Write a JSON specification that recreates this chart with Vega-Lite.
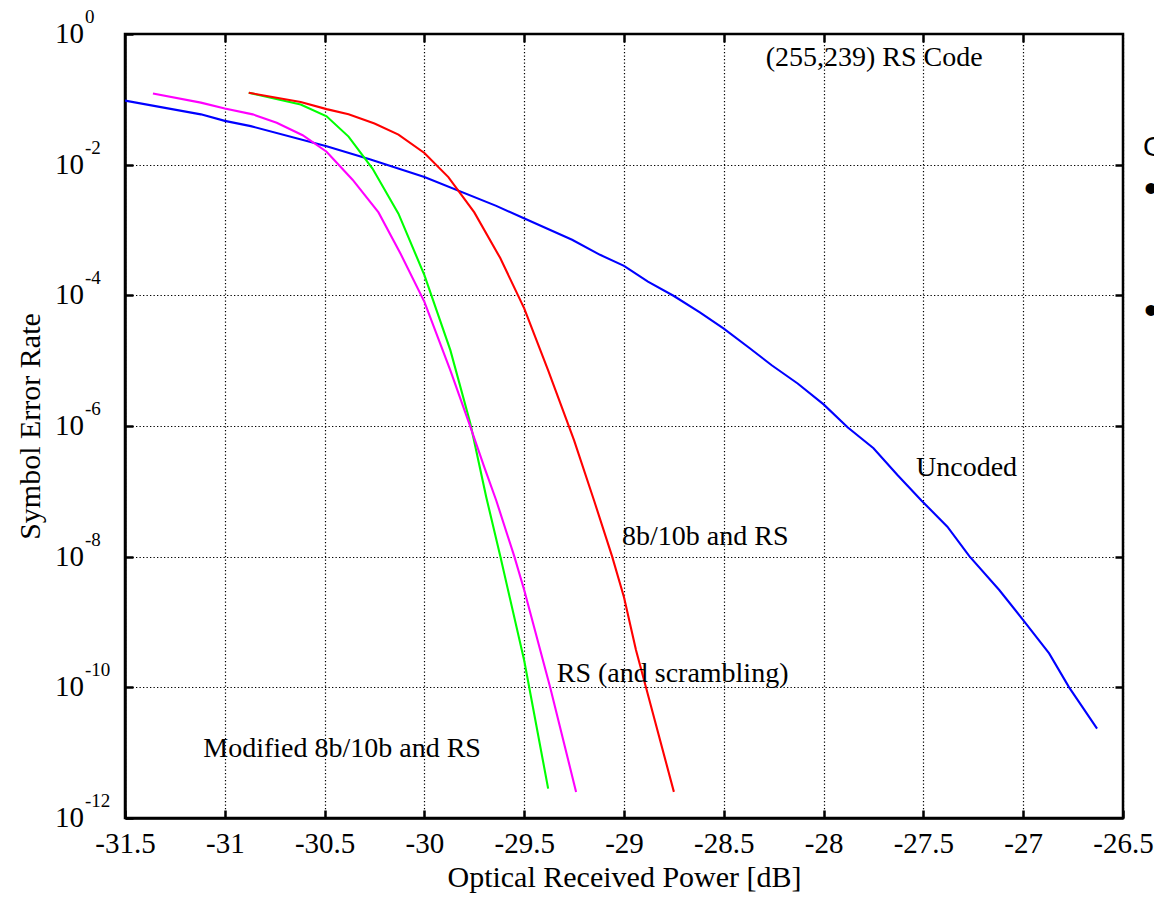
{
  "$schema": "https://vega.github.io/schema/vega-lite/v6.json",
  "autosize": {"type": "none"},
  "width": 998,
  "height": 784,
  "padding": {"left": 125, "top": 34, "right": 31, "bottom": 83},
  "background": "white",
  "config": {
    "view": {"stroke": "black", "strokeWidth": 2.5},
    "font": "Liberation Serif",
    "axis": {
      "domainColor": "black", "domainWidth": 2.5,
      "gridColor": "black", "gridDash": [1.3, 2.2], "gridWidth": 1.2, "gridOpacity": 1,
      "tickColor": "black", "tickWidth": 2.5, "tickSize": -8,
      "labelFont": "Liberation Serif", "labelFontSize": 29, "labelColor": "black",
      "titleFont": "Liberation Serif", "titleFontSize": 30, "titleFontWeight": "normal", "titleColor": "black"
    }
  },
  "datasets": {
    "curves": [
      {"s": "Uncoded", "x": -31.5, "y": 0.0955},
      {"s": "Uncoded", "x": -31.12, "y": 0.0589},
      {"s": "Uncoded", "x": -31.0, "y": 0.0468},
      {"s": "Uncoded", "x": -30.87, "y": 0.0389},
      {"s": "Uncoded", "x": -30.49, "y": 0.0191},
      {"s": "Uncoded", "x": -30.27, "y": 0.012},
      {"s": "Uncoded", "x": -30.0, "y": 0.00646},
      {"s": "Uncoded", "x": -29.64, "y": 0.00234},
      {"s": "Uncoded", "x": -29.51, "y": 0.00155},
      {"s": "Uncoded", "x": -29.26, "y": 7.08e-4},
      {"s": "Uncoded", "x": -29.12, "y": 4.17e-4},
      {"s": "Uncoded", "x": -29.0, "y": 2.82e-4},
      {"s": "Uncoded", "x": -28.88, "y": 1.62e-4},
      {"s": "Uncoded", "x": -28.75, "y": 9.77e-5},
      {"s": "Uncoded", "x": -28.62, "y": 5.5e-5},
      {"s": "Uncoded", "x": -28.5, "y": 3.09e-5},
      {"s": "Uncoded", "x": -28.37, "y": 1.55e-5},
      {"s": "Uncoded", "x": -28.26, "y": 8.51e-6},
      {"s": "Uncoded", "x": -28.13, "y": 4.47e-6},
      {"s": "Uncoded", "x": -28.0, "y": 2.14e-6},
      {"s": "Uncoded", "x": -27.88, "y": 9.55e-7},
      {"s": "Uncoded", "x": -27.75, "y": 4.57e-7},
      {"s": "Uncoded", "x": -27.63, "y": 1.78e-7},
      {"s": "Uncoded", "x": -27.51, "y": 7.24e-8},
      {"s": "Uncoded", "x": -27.38, "y": 2.88e-8},
      {"s": "Uncoded", "x": -27.27, "y": 1.02e-8},
      {"s": "Uncoded", "x": -27.12, "y": 3.09e-9},
      {"s": "Uncoded", "x": -27.0, "y": 1.07e-9},
      {"s": "Uncoded", "x": -26.87, "y": 3.31e-10},
      {"s": "Uncoded", "x": -26.77, "y": 1.0e-10},
      {"s": "Uncoded", "x": -26.63, "y": 2.34e-11},
      {"s": "Modified 8b/10b and RS", "x": -30.88, "y": 0.126},
      {"s": "Modified 8b/10b and RS", "x": -30.62, "y": 0.0832},
      {"s": "Modified 8b/10b and RS", "x": -30.49, "y": 0.055},
      {"s": "Modified 8b/10b and RS", "x": -30.38, "y": 0.0269},
      {"s": "Modified 8b/10b and RS", "x": -30.26, "y": 0.00871},
      {"s": "Modified 8b/10b and RS", "x": -30.13, "y": 0.00178},
      {"s": "Modified 8b/10b and RS", "x": -30.0, "y": 2.04e-4},
      {"s": "Modified 8b/10b and RS", "x": -29.87, "y": 1.45e-5},
      {"s": "Modified 8b/10b and RS", "x": -29.77, "y": 1.1e-6},
      {"s": "Modified 8b/10b and RS", "x": -29.69, "y": 8.13e-8},
      {"s": "Modified 8b/10b and RS", "x": -29.62, "y": 1.02e-8},
      {"s": "Modified 8b/10b and RS", "x": -29.5, "y": 2.57e-10},
      {"s": "Modified 8b/10b and RS", "x": -29.38, "y": 2.82e-12},
      {"s": "RS (and scrambling)", "x": -31.36, "y": 0.123},
      {"s": "RS (and scrambling)", "x": -31.12, "y": 0.0891},
      {"s": "RS (and scrambling)", "x": -31.0, "y": 0.0724},
      {"s": "RS (and scrambling)", "x": -30.86, "y": 0.0589},
      {"s": "RS (and scrambling)", "x": -30.74, "y": 0.0437},
      {"s": "RS (and scrambling)", "x": -30.61, "y": 0.0282},
      {"s": "RS (and scrambling)", "x": -30.49, "y": 0.0158},
      {"s": "RS (and scrambling)", "x": -30.36, "y": 0.00589},
      {"s": "RS (and scrambling)", "x": -30.23, "y": 0.00186},
      {"s": "RS (and scrambling)", "x": -30.12, "y": 4.37e-4},
      {"s": "RS (and scrambling)", "x": -30.0, "y": 7.94e-5},
      {"s": "RS (and scrambling)", "x": -29.87, "y": 7.08e-6},
      {"s": "RS (and scrambling)", "x": -29.77, "y": 9.77e-7},
      {"s": "RS (and scrambling)", "x": -29.7, "y": 2.34e-7},
      {"s": "RS (and scrambling)", "x": -29.64, "y": 7.24e-8},
      {"s": "RS (and scrambling)", "x": -29.55, "y": 1.02e-8},
      {"s": "RS (and scrambling)", "x": -29.5, "y": 3.09e-9},
      {"s": "RS (and scrambling)", "x": -29.37, "y": 1.0e-10},
      {"s": "RS (and scrambling)", "x": -29.24, "y": 2.51e-12},
      {"s": "8b/10b and RS", "x": -30.88, "y": 0.126},
      {"s": "8b/10b and RS", "x": -30.62, "y": 0.0912},
      {"s": "8b/10b and RS", "x": -30.49, "y": 0.0708},
      {"s": "8b/10b and RS", "x": -30.38, "y": 0.0589},
      {"s": "8b/10b and RS", "x": -30.25, "y": 0.0427},
      {"s": "8b/10b and RS", "x": -30.13, "y": 0.0288},
      {"s": "8b/10b and RS", "x": -30.0, "y": 0.0151},
      {"s": "8b/10b and RS", "x": -29.88, "y": 0.00646},
      {"s": "8b/10b and RS", "x": -29.75, "y": 0.00186},
      {"s": "8b/10b and RS", "x": -29.62, "y": 3.72e-4},
      {"s": "8b/10b and RS", "x": -29.5, "y": 6.31e-5},
      {"s": "8b/10b and RS", "x": -29.38, "y": 7.08e-6},
      {"s": "8b/10b and RS", "x": -29.25, "y": 6.03e-7},
      {"s": "8b/10b and RS", "x": -29.15, "y": 7.24e-8},
      {"s": "8b/10b and RS", "x": -29.06, "y": 1.02e-8},
      {"s": "8b/10b and RS", "x": -29.0, "y": 2.4e-9},
      {"s": "8b/10b and RS", "x": -28.94, "y": 3.72e-10},
      {"s": "8b/10b and RS", "x": -28.89, "y": 1.0e-10},
      {"s": "8b/10b and RS", "x": -28.75, "y": 2.51e-12}
    ],
    "labels": [
      {"t": "(255,239) RS Code", "x": -28.29, "y": 0.43},
      {"t": "Uncoded", "x": -27.537, "y": 2.25e-7},
      {"t": "8b/10b and RS", "x": -29.01, "y": 2.0e-8},
      {"t": "RS (and scrambling)", "x": -29.337, "y": 1.62e-10},
      {"t": "Modified 8b/10b and RS", "x": -31.108, "y": 1.15e-11}
    ],
    "yticks": [
      {"v": 1, "e": "0"},
      {"v": 1e-2, "e": "-2"},
      {"v": 1e-4, "e": "-4"},
      {"v": 1e-6, "e": "-6"},
      {"v": 1e-8, "e": "-8"},
      {"v": 1e-10, "e": "-10"},
      {"v": 1e-12, "e": "-12"}
    ],
    "side": [
      {"t": "C", "x": -26.40, "y": 0.018, "k": "c"},
      {"t": "•", "x": -26.395, "y": 0.0041, "k": "b"},
      {"t": "•", "x": -26.395, "y": 5.5e-5, "k": "b"}
    ]
  },
  "resolve": {"axis": {"x": "independent", "y": "independent"}},
  "layer": [
    {
      "data": {"name": "curves"},
      "mark": {"type": "line", "strokeWidth": 2.1, "clip": true},
      "encoding": {
        "x": {"field": "x", "type": "quantitative",
          "scale": {"domain": [-31.5, -26.5], "nice": false, "zero": false},
          "axis": {"orient": "bottom", "values": [-31.5, -31, -30.5, -30, -29.5, -29, -28.5, -28, -27.5, -27, -26.5],
            "labelExpr": "'' + datum.value", "labelPadding": 19, "labelFlush": false, "labelOverlap": false,
            "title": "Optical Received Power [dB]", "titlePadding": 4}},
        "y": {"field": "y", "type": "quantitative",
          "scale": {"type": "log", "domain": [1e-12, 1], "nice": false},
          "axis": {"orient": "left", "values": [1, 1e-2, 1e-4, 1e-6, 1e-8, 1e-10, 1e-12], "labels": false,
            "title": "Symbol Error Rate", "titleX": -95, "titleBaseline": "middle"}},
        "color": {"field": "s", "type": "nominal", "legend": null,
          "scale": {"domain": ["Uncoded", "8b/10b and RS", "RS (and scrambling)", "Modified 8b/10b and RS"],
            "range": ["#0000ff", "#ff0000", "#ff00ff", "#00ff00"]}},
        "detail": {"field": "s"}
      }
    },
    {
      "data": {"name": "labels"},
      "mark": {"type": "text", "align": "left", "baseline": "middle", "fontSize": 28, "font": "Liberation Serif", "color": "black"},
      "encoding": {
        "x": {"field": "x", "type": "quantitative",
          "axis": {"orient": "top", "values": [-31, -30.5, -30, -29.5, -29, -28.5, -28, -27.5, -27], "labels": false, "grid": false, "domain": false, "title": null}},
        "y": {"field": "y", "type": "quantitative",
          "axis": {"orient": "right", "values": [1e-2, 1e-4, 1e-6, 1e-8, 1e-10], "labels": false, "grid": false, "domain": false, "title": null}},
        "text": {"field": "t"}
      }
    },
    {
      "data": {"name": "yticks"},
      "mark": {"type": "text", "align": "right", "baseline": "middle", "fontSize": 29, "font": "Liberation Serif", "color": "black", "dx": -41, "dy": 0},
      "encoding": {
        "x": {"datum": -31.5, "type": "quantitative", "axis": null},
        "y": {"field": "v", "type": "quantitative", "axis": null},
        "text": {"value": "10"}
      }
    },
    {
      "data": {"name": "yticks"},
      "mark": {"type": "text", "align": "left", "baseline": "middle", "fontSize": 19, "font": "Liberation Serif", "color": "black", "dx": -40, "dy": -17},
      "encoding": {
        "x": {"datum": -31.5, "type": "quantitative", "axis": null},
        "y": {"field": "v", "type": "quantitative", "axis": null},
        "text": {"field": "e"}
      }
    },
    {
      "data": {"name": "side"},
      "mark": {"type": "text", "align": "left", "baseline": "middle", "font": "Liberation Sans", "color": "black"},
      "encoding": {
        "x": {"field": "x", "type": "quantitative", "axis": null},
        "y": {"field": "y", "type": "quantitative", "axis": null},
        "size": {"field": "k", "type": "nominal", "legend": null, "scale": {"domain": ["c", "b"], "range": [28, 40]}},
        "text": {"field": "t"}
      }
    }
  ]
}
